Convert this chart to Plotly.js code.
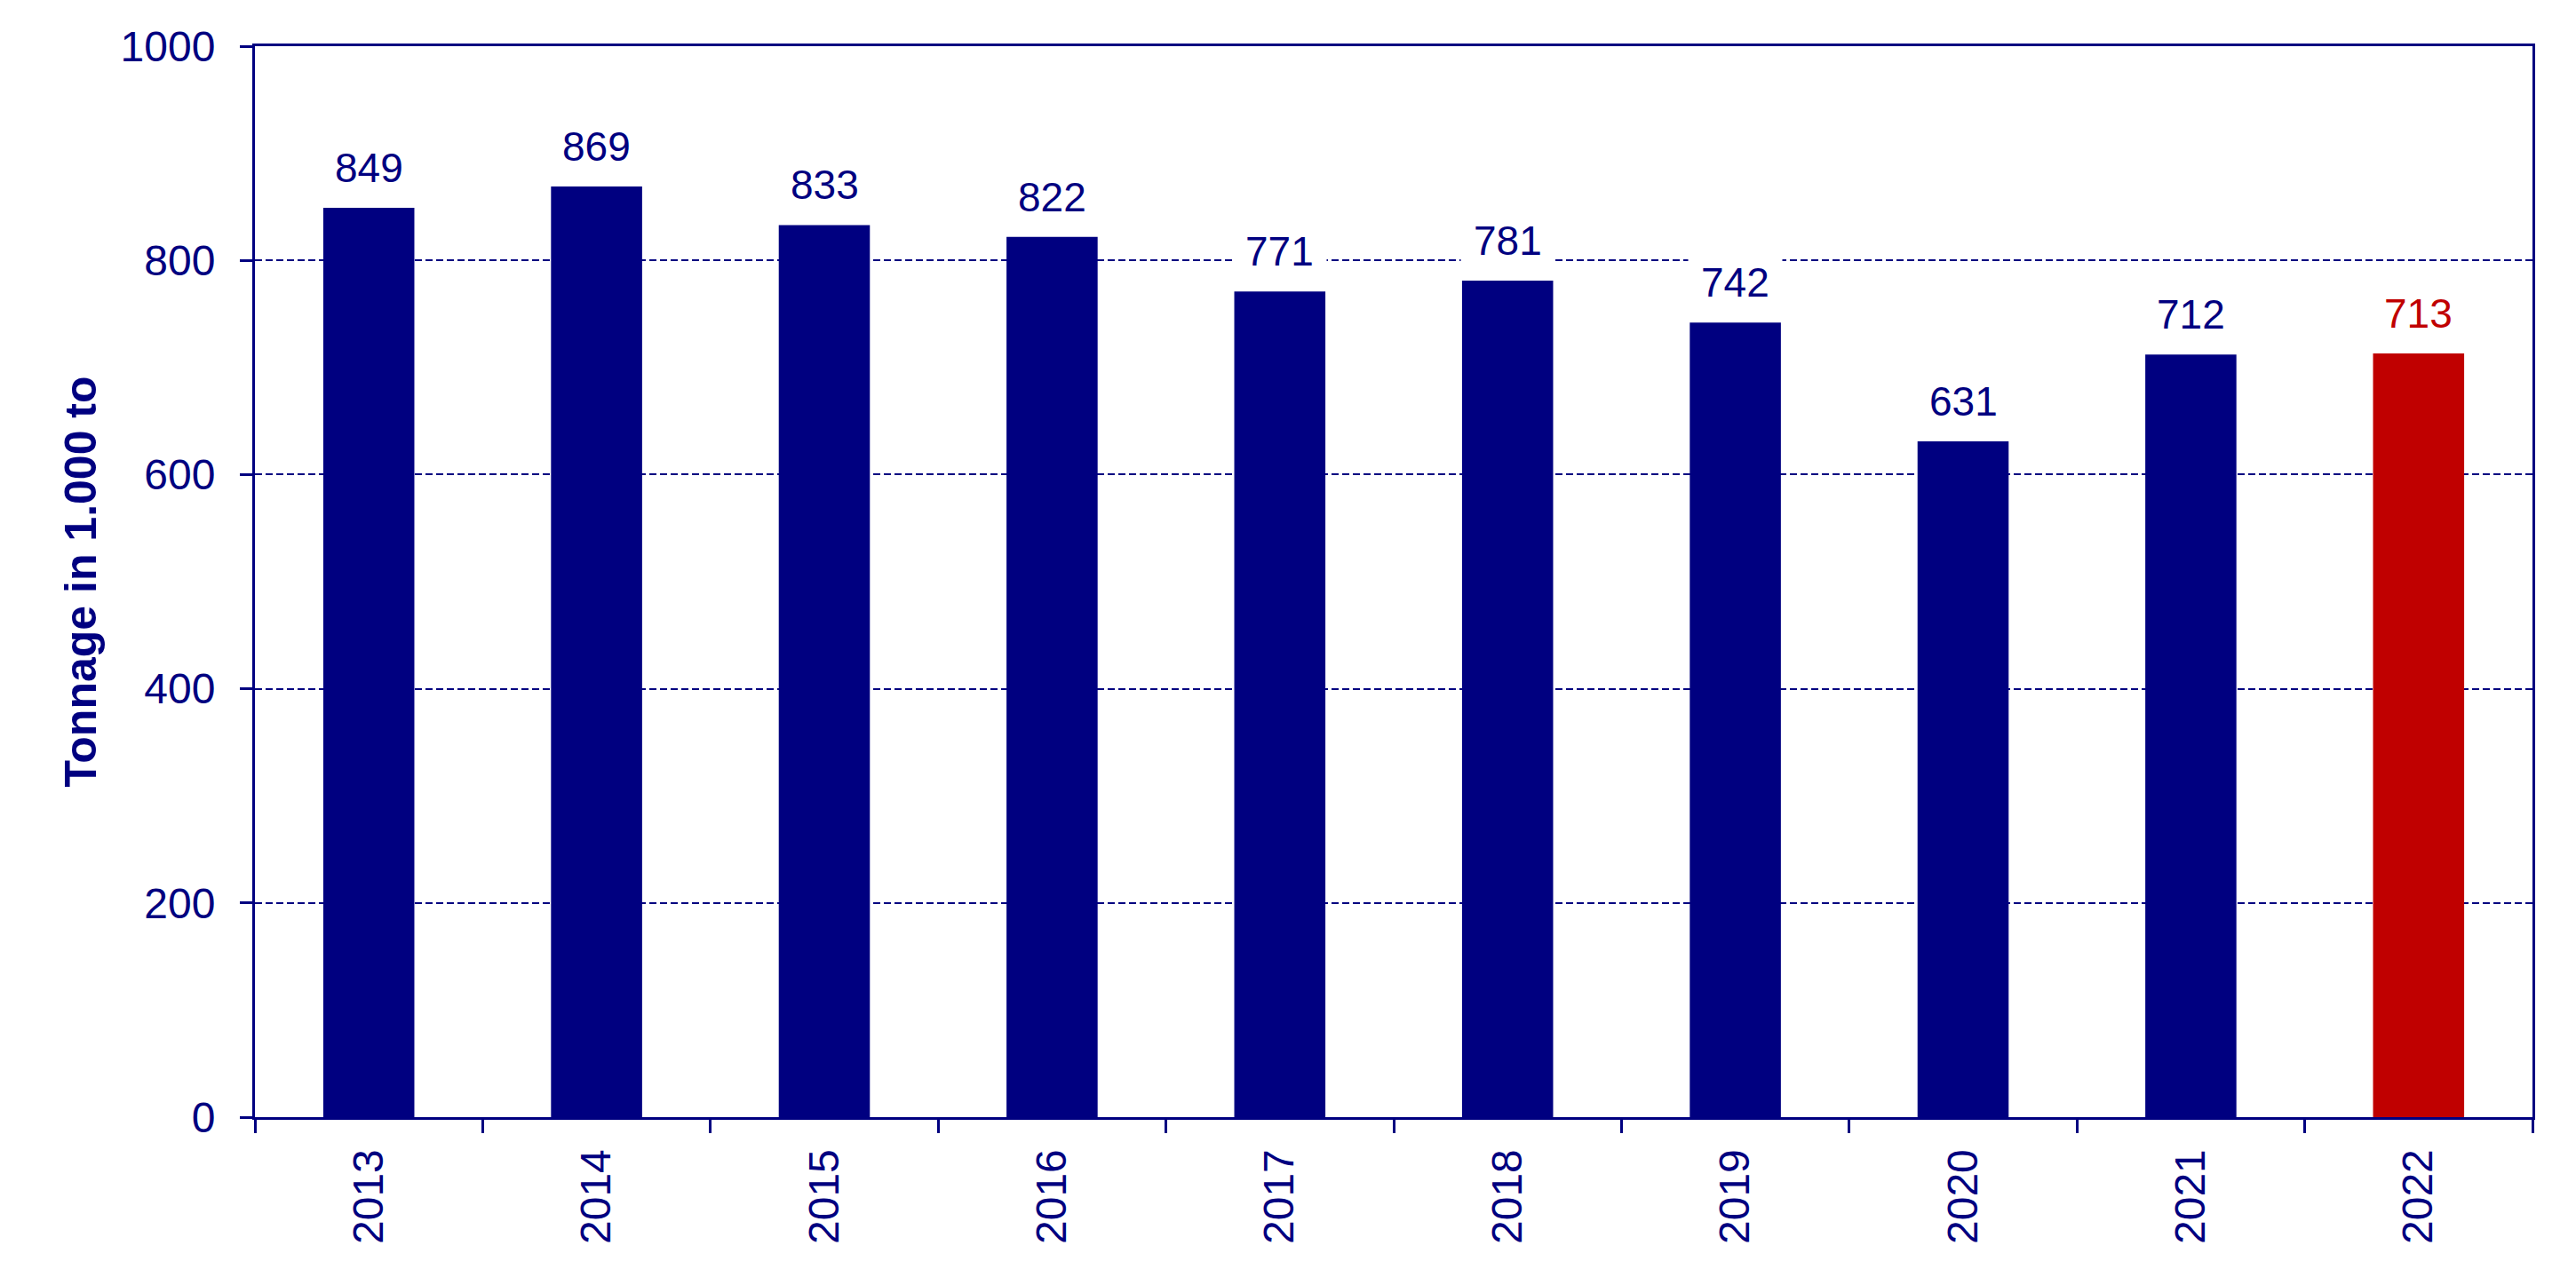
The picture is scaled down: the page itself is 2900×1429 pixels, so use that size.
<!DOCTYPE html>
<html>
<head>
<meta charset="utf-8">
<script src="https://cdn.plot.ly/plotly-3.0.1.min.js"></script>
<style>html,body{margin:0;padding:0;background:#fff;}#chart{width:2900px;height:1429px;}</style>
</head>
<body>
<div id="chart"></div>
<script>
const years = ["2013","2014","2015","2016","2017","2018","2019","2020","2021","2022"];
const tonnage = [849, 869, 833, 822, 771, 781, 742, 631, 712, 713];
const barColors = ["#000080","#000080","#000080","#000080","#000080","#000080","#000080","#000080","#000080","#C00000"];
const yTicks = [0, 200, 400, 600, 800, 1000];
const yTitle = "Tonnage in 1.000 to";

const navy = "#000080";
const fontFam = "Liberation Sans, Arial, sans-serif";

const trace = {
  type: "bar",
  x: years,
  y: tonnage,
  marker: {color: barColors, line: {width: 0}},
  hoverinfo: "none"
};

const annotations = years.map((yr, i) => ({
  x: i,
  y: tonnage[i],
  xref: "x",
  yref: "y",
  text: String(tonnage[i]),
  showarrow: false,
  yanchor: "bottom",
  yshift: 4,
  bgcolor: "#ffffff",
  borderpad: 14,
  font: {family: fontFam, size: 46, color: barColors[i]}
}));

const layout = {
  width: 2900,
  height: 1429,
  margin: {l: 287, r: 49, t: 52, b: 171},
  paper_bgcolor: "#ffffff",
  plot_bgcolor: "#ffffff",
  showlegend: false,
  bargap: 0.6,
  font: {family: fontFam, color: navy, size: 48},
  xaxis: {
    type: "category",
    categoryorder: "array",
    categoryarray: years,
    range: [-0.5, years.length - 0.5],
    tickson: "boundaries",
    ticks: "outside",
    ticklen: 15,
    tickwidth: 3,
    tickcolor: navy,
    tickangle: -90,
    ticklabelstandoff: 14,
    tickfont: {family: fontFam, size: 48, color: navy},
    showline: true,
    linecolor: navy,
    linewidth: 3,
    mirror: true,
    showgrid: false,
    zeroline: false
  },
  yaxis: {
    range: [0, 1000],
    tickvals: yTicks,
    ticktext: yTicks.map(String),
    ticks: "outside",
    ticklen: 14,
    tickwidth: 3,
    tickcolor: navy,
    ticklabelstandoff: 18,
    tickfont: {family: fontFam, size: 48, color: navy},
    showline: true,
    linecolor: navy,
    linewidth: 3,
    mirror: true,
    showgrid: true,
    gridcolor: navy,
    gridwidth: 2,
    griddash: "8px,4px",
    zeroline: false,
    title: {text: "<b>" + yTitle + "</b>", font: {family: fontFam, size: 50, color: navy}, standoff: 12}
  },
  annotations: annotations
};

Plotly.newPlot("chart", [trace], layout, {staticPlot: true, displayModeBar: false});
</script>
</body>
</html>
